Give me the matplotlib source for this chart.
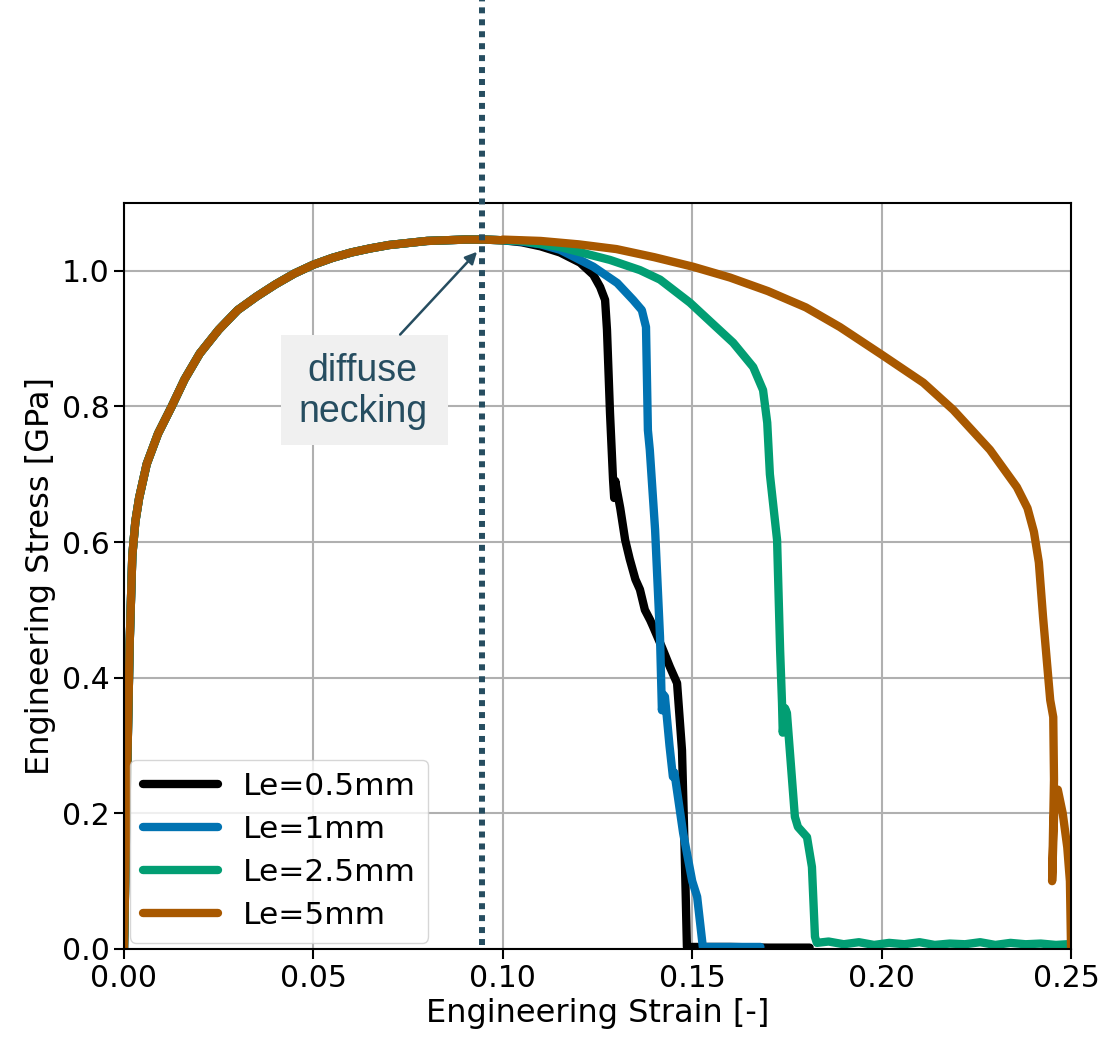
import matplotlib
matplotlib.use("Agg")
import matplotlib.pyplot as plt
import matplotlib.transforms as mtransforms
from matplotlib.patches import Rectangle

# common hardening part (all four curves overlap up to ~0.10)
x_common = [0.0, 0.0008, 0.0015, 0.0022, 0.003, 0.004, 0.006, 0.009, 0.0126, 0.016, 0.02,
            0.025, 0.03, 0.035, 0.04, 0.045, 0.05, 0.055, 0.06, 0.065, 0.07, 0.075, 0.08,
            0.085, 0.09, 0.095, 0.10]
y_common = [0.0, 0.25, 0.45, 0.58, 0.63, 0.665, 0.715, 0.76, 0.80, 0.84, 0.878,
            0.913, 0.942, 0.962, 0.980, 0.996, 1.009, 1.019, 1.027, 1.033, 1.038, 1.041, 1.044,
            1.045, 1.046, 1.046, 1.045]

# Le = 0.5mm
x_05 = [0.105, 0.110, 0.1151, 0.1204, 0.1239, 0.1257, 0.127, 0.1275, 0.1283, 0.1291,
        0.1294, 0.1297, 0.1300, 0.1305, 0.1310, 0.1323, 0.1335, 0.1350, 0.1362, 0.1375,
        0.1389, 0.1397, 0.1420, 0.1441, 0.1460, 0.1473, 0.1480, 0.1486, 0.16, 0.17, 0.181]
y_05 = [1.042, 1.036, 1.027, 1.012, 0.994, 0.976, 0.957, 0.913, 0.79, 0.692,
        0.665, 0.69, 0.68, 0.665, 0.65, 0.603, 0.575, 0.545, 0.53, 0.50,
        0.485, 0.475, 0.445, 0.416, 0.392, 0.293, 0.146, 0.003, 0.003, 0.002, 0.002]

# Le = 1mm
x_1 = [0.105, 0.110, 0.1151, 0.1239, 0.1302, 0.1344, 0.1367, 0.1378, 0.1383, 0.1388,
       0.1402, 0.1415, 0.1420, 0.1424, 0.1428, 0.1440, 0.1449, 0.1453, 0.1476, 0.1500,
       0.1513, 0.1528, 0.158, 0.168]
y_1 = [1.043, 1.039, 1.031, 1.006, 0.982, 0.957, 0.942, 0.917, 0.765, 0.736,
       0.618, 0.46, 0.352, 0.375, 0.372, 0.30, 0.254, 0.26, 0.171, 0.10,
       0.077, 0.003, 0.003, 0.003]

# Le = 2.5mm
x_25 = [0.105, 0.1151, 0.1283, 0.1362, 0.1415, 0.1494, 0.1548, 0.1608, 0.1661, 0.1687,
        0.1698, 0.1705, 0.1724, 0.1732, 0.1737, 0.1739, 0.1745, 0.1750, 0.1771, 0.1779,
        0.1803, 0.1816, 0.1824, 0.1829, 0.186, 0.190, 0.194, 0.198, 0.202, 0.206, 0.210,
        0.214, 0.218, 0.222, 0.226, 0.230, 0.234, 0.238, 0.242, 0.246, 0.249]
y_25 = [1.044, 1.035, 1.016, 1.001, 0.987, 0.953, 0.925, 0.894, 0.858, 0.824,
        0.776, 0.70, 0.603, 0.441, 0.363, 0.319, 0.355, 0.348, 0.195, 0.18,
        0.165, 0.121, 0.018, 0.009, 0.011, 0.007, 0.010, 0.006, 0.009, 0.007, 0.010,
        0.006, 0.008, 0.007, 0.010, 0.006, 0.009, 0.007, 0.008, 0.006, 0.007]

# Le = 5mm
x_5 = [0.10, 0.11, 0.12, 0.13, 0.14, 0.1502, 0.16, 0.17, 0.18, 0.189, 0.2001,
       0.211, 0.2189, 0.2286, 0.2357, 0.2385, 0.2402, 0.2415, 0.2426, 0.2445,
       0.2453, 0.2455, 0.2450, 0.2457, 0.2465, 0.2478, 0.2490, 0.2497, 0.2500]
y_5 = [1.046, 1.044, 1.039, 1.032, 1.020, 1.006, 0.990, 0.970, 0.946, 0.917, 0.876,
       0.835, 0.795, 0.736, 0.681, 0.650, 0.615, 0.570, 0.490, 0.367,
       0.342, 0.25, 0.10, 0.23, 0.235, 0.20, 0.15, 0.10, 0.0]

labels = ["Le=0.5mm", "Le=1mm", "Le=2.5mm", "Le=5mm"]
colors = ["black", "#0173B2", "#029E73", "#A85800"]
necking_strain = 0.0945

fig = plt.figure(figsize=(11.01, 10.5), dpi=100)
ax = fig.add_axes([0.1126, 0.0962, 0.8602, 0.7105])

for xs, ys, lab, c in zip([x_05, x_1, x_25, x_5], [y_05, y_1, y_25, y_5], labels, colors):
    ax.plot(x_common + xs, y_common + ys, color=c, lw=6, label=lab,
            solid_joinstyle="round", solid_capstyle="round")

ax.set_xlim(0, 0.25)
ax.set_ylim(0, 1.1)
ax.set_xticks([0.0, 0.05, 0.10, 0.15, 0.20, 0.25])
ax.set_xticklabels(["0.00", "0.05", "0.10", "0.15", "0.20", "0.25"])
ax.set_yticks([0.0, 0.2, 0.4, 0.6, 0.8, 1.0])
ax.grid(True, color="#b0b0b0", lw=1.5)
ax.tick_params(labelsize=21.5, length=7, width=1.5)
for s in ax.spines.values():
    s.set_linewidth(1.5)
ax.set_xlabel("Engineering Strain [-]", fontsize=23)
ax.set_ylabel("Engineering Stress [GPa]", fontsize=23)

# keep the last x tick label inside the figure
last = ax.get_xticklabels()[-1]
last.set_transform(last.get_transform() +
                   mtransforms.ScaledTranslation(-5 / 100, 0, fig.dpi_scale_trans))

leg = ax.legend(loc="lower left", fontsize=22.5, handlelength=2.4, handletextpad=0.8,
                borderaxespad=0.2, borderpad=0.4, labelspacing=0.45, framealpha=0.8)

# diffuse necking marker
ax.plot([necking_strain, necking_strain], [0.006, 1.40], color="#264D60", lw=4.3,
        linestyle=(0, (1, 1)), clip_on=False, zorder=5)
ax.add_patch(Rectangle((0.0415, 0.743), 0.0441, 0.162, facecolor="#F0F0F0",
                       edgecolor="none", zorder=4))
ax.text(0.0630, 0.822, "diffuse\nnecking", ha="center", va="center", fontsize=27,
        family="Liberation Sans", color="#264D60", linespacing=1.2, zorder=6)
ax.annotate("", xy=(0.0932, 1.028), xytext=(0.0729, 0.906),
            arrowprops=dict(arrowstyle="-|>,head_length=0.7,head_width=0.35",
                            color="#264D60", lw=1.8, shrinkA=0, shrinkB=0), zorder=6)

fig.savefig("out.png", dpi=100)
